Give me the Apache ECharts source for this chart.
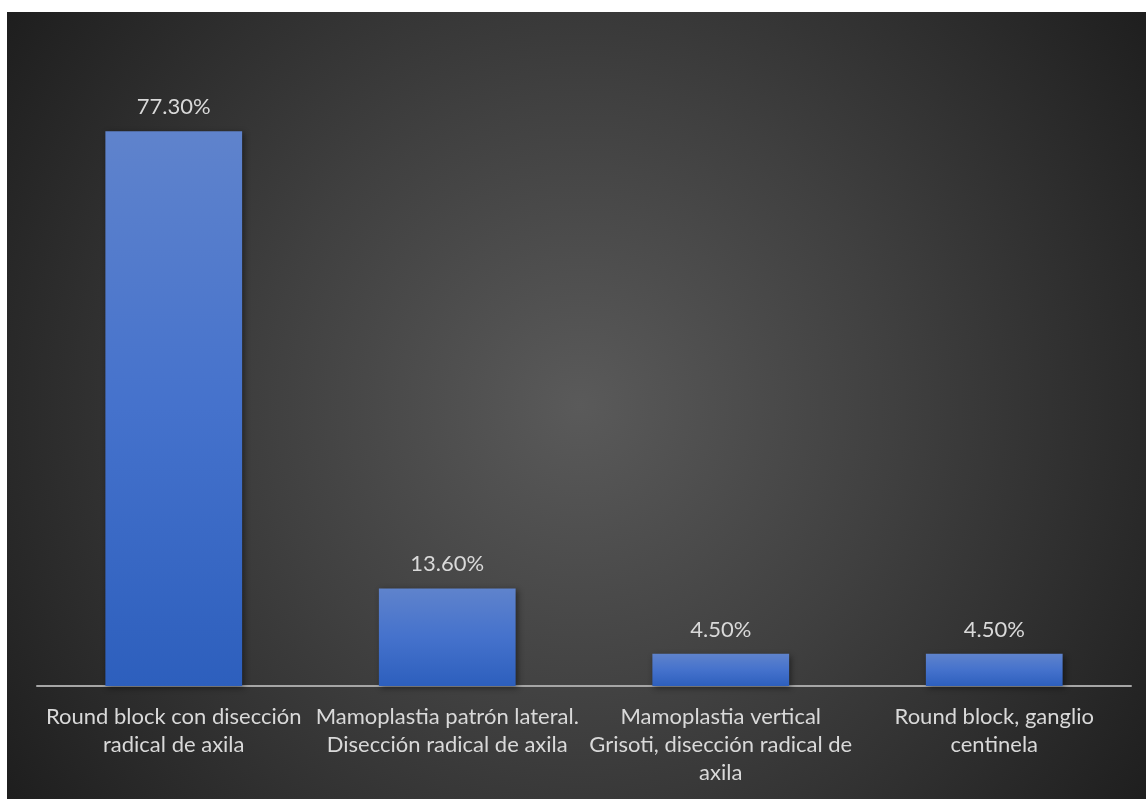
<!DOCTYPE html>
<html>
<head>
<meta charset="utf-8">
<script src="https://cdn.jsdelivr.net/npm/echarts@6/dist/echarts.min.js"></script>
<style>
  html, body { margin: 0; padding: 0; background: #ffffff; width: 1146px; height: 799px; overflow: hidden; }
  #chart { position: absolute; left: 7px; top: 12px; width: 1139px; height: 787px;
    background: radial-gradient(circle farthest-corner at 50.3% 50%, #5a5a5a 0%, #404040 45%, #1e1e1e 100%); }
</style>
</head>
<body>
<div id="chart"></div>
<script>
const categories = [
  "Round block con disección\nradical de axila",
  "Mamoplastia patrón lateral.\nDisección radical de axila",
  "Mamoplastia vertical\nGrisoti, disección radical de\naxila",
  "Round block, ganglio\ncentinela"
];
const values = [77.3, 13.6, 4.5, 4.5];

const chart = echarts.init(document.getElementById('chart'), null, { renderer: 'canvas' });
chart.setOption({
  backgroundColor: 'transparent',
  animation: false,
  grid: { left: 30, right: 15, top: 28, bottom: 113, containLabel: false },
  xAxis: {
    type: 'category',
    data: categories,
    axisLine: { show: true, lineStyle: { color: '#a6a6a6', width: 2 } },
    axisTick: { show: false },
    axisLabel: {
      color: '#d9d9d9', fontSize: 22, fontFamily: 'Lato', lineHeight: 28,
      margin: 17, interval: 0
    }
  },
  yAxis: {
    type: 'value', min: 0, max: 90,
    show: false,
    splitLine: { show: false }
  },
  series: [{
    type: 'bar',
    data: values,
    barWidth: '50%',
    itemStyle: {
      color: {
        type: 'linear', x: 0, y: 0, x2: 0, y2: 1,
        colorStops: [
          { offset: 0, color: '#5f83cc' },
          { offset: 0.5, color: '#4572cc' },
          { offset: 1, color: '#2d5fbd' }
        ]
      },
      shadowBlur: 6, shadowColor: 'rgba(0,0,0,0.45)', shadowOffsetX: 2, shadowOffsetY: 2
    },
    label: {
      show: true, position: 'top', distance: 13,
      color: '#d9d9d9', fontSize: 22, fontFamily: 'Lato',
      formatter: p => p.value.toFixed(2) + '%'
    }
  }]
});
</script>
</body>
</html>
